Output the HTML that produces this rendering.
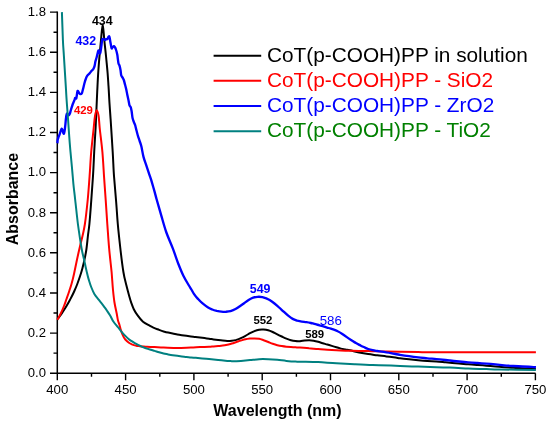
<!DOCTYPE html>
<html><head><meta charset="utf-8"><style>
html,body{margin:0;padding:0;background:#fff;}
svg{display:block;will-change:transform;font-family:"Liberation Sans",sans-serif;}
</style></head><body>
<svg width="550" height="426" viewBox="0 0 550 426">
<rect width="550" height="426" fill="#fff"/>
<path d="M57.3 11.5 V373.2 H535.6" fill="none" stroke="#000" stroke-width="1.5"/><path d="M50.0 373.2H57.3 M53.5 353.1H57.3 M50.0 333.1H57.3 M53.5 313.0H57.3 M50.0 293.0H57.3 M53.5 272.9H57.3 M50.0 252.8H57.3 M53.5 232.8H57.3 M50.0 212.7H57.3 M53.5 192.7H57.3 M50.0 172.6H57.3 M53.5 152.5H57.3 M50.0 132.5H57.3 M53.5 112.4H57.3 M50.0 92.4H57.3 M53.5 72.3H57.3 M50.0 52.2H57.3 M53.5 32.2H57.3 M50.0 12.1H57.3 M57.3 373.2V380.3 M91.5 373.2V376.8 M125.6 373.2V380.3 M159.8 373.2V376.8 M193.9 373.2V380.3 M228.1 373.2V376.8 M262.2 373.2V380.3 M296.4 373.2V376.8 M330.5 373.2V380.3 M364.7 373.2V376.8 M398.8 373.2V380.3 M433.0 373.2V376.8 M467.1 373.2V380.3 M501.3 373.2V376.8 M535.4 373.2V380.3" stroke="#000" stroke-width="1.4" fill="none"/>
<path d="M57.5 319.2 C57.9 318.7 59.1 317.2 60.0 316.0 C60.9 314.8 61.6 313.7 62.7 312.0 C63.8 310.3 65.3 308.0 66.5 306.0 C67.7 304.0 68.7 302.3 69.9 300.0 C71.1 297.7 72.7 294.7 73.9 292.0 C75.1 289.3 76.3 286.7 77.3 284.0 C78.3 281.3 79.2 278.7 80.1 276.0 C81.0 273.3 81.8 270.7 82.5 268.0 C83.2 265.3 83.8 263.0 84.4 260.0 C85.0 257.0 85.7 254.0 86.3 250.0 C86.9 246.0 87.4 240.3 87.9 236.0 C88.4 231.7 88.8 230.0 89.4 224.0 C90.0 218.0 90.7 208.0 91.3 200.0 C91.9 192.0 92.5 184.0 93.0 176.0 C93.5 168.0 93.8 160.0 94.2 152.0 C94.6 144.0 95.2 135.3 95.6 128.0 C96.0 120.7 96.2 114.0 96.5 108.0 C96.8 102.0 96.9 97.8 97.2 92.0 C97.5 86.2 97.8 79.0 98.2 73.0 C98.6 67.0 99.0 61.5 99.5 56.0 C100.0 50.5 100.5 45.3 101.0 40.0 C101.5 34.7 102.2 24.2 102.7 24.2 C103.2 24.2 103.8 34.7 104.3 40.0 C104.8 45.3 105.5 50.5 106.0 56.0 C106.5 61.5 107.2 68.0 107.6 73.0 C108.0 78.0 108.2 81.5 108.5 86.0 C108.8 90.5 109.0 94.5 109.3 100.0 C109.6 105.5 110.0 110.3 110.6 119.0 C111.2 127.7 112.1 142.5 112.7 152.0 C113.3 161.5 113.4 168.0 114.0 176.0 C114.6 184.0 115.4 192.0 116.0 200.0 C116.7 208.0 117.1 216.0 117.8 224.0 C118.5 232.0 119.4 240.0 120.3 248.0 C121.2 256.0 122.4 265.8 123.4 272.0 C124.4 278.2 125.3 281.0 126.3 285.0 C127.3 289.0 128.4 293.1 129.2 296.0 C130.0 298.9 130.4 300.4 131.2 302.6 C132.0 304.8 132.7 307.0 133.8 309.2 C134.9 311.4 136.3 313.6 137.8 315.7 C139.3 317.8 141.0 320.0 143.0 321.7 C145.0 323.4 148.1 324.8 150.0 325.9 C151.9 327.0 153.0 327.4 154.5 328.1 C156.0 328.8 157.6 329.3 159.1 329.9 C160.6 330.5 162.1 331.1 163.6 331.5 C165.1 331.9 166.7 332.3 168.2 332.6 C169.7 332.9 171.2 333.2 172.7 333.5 C174.2 333.8 175.8 334.2 177.3 334.5 C178.8 334.8 180.3 335.0 181.8 335.2 C183.3 335.4 184.9 335.6 186.4 335.8 C187.9 336.0 189.4 336.2 190.9 336.4 C192.4 336.6 194.0 336.7 195.5 336.9 C197.0 337.1 198.5 337.3 200.0 337.5 C201.5 337.7 203.0 337.9 204.5 338.1 C206.0 338.3 207.6 338.5 209.1 338.7 C210.6 338.9 212.1 339.3 213.6 339.5 C215.1 339.7 216.7 339.9 218.2 340.1 C219.7 340.3 221.2 340.5 222.7 340.6 C224.2 340.8 225.8 341.0 227.3 341.0 C228.8 341.0 230.3 341.0 231.8 340.8 C233.3 340.6 234.9 340.3 236.4 339.9 C237.9 339.4 239.4 338.8 240.9 338.1 C242.4 337.4 244.0 336.6 245.5 335.8 C247.0 335.0 248.5 334.0 250.0 333.2 C251.5 332.4 253.0 331.7 254.5 331.1 C256.0 330.5 257.6 330.0 259.1 329.7 C260.6 329.4 262.1 329.4 263.6 329.5 C265.1 329.6 266.7 329.8 268.2 330.2 C269.7 330.6 271.2 331.3 272.7 332.0 C274.2 332.7 275.8 333.6 277.3 334.3 C278.8 335.1 280.3 335.8 281.8 336.5 C283.3 337.2 284.9 338.0 286.4 338.6 C287.9 339.2 289.4 339.8 290.9 340.2 C292.4 340.6 294.0 340.9 295.5 341.1 C297.0 341.3 298.5 341.3 300.0 341.2 C301.5 341.1 303.0 340.7 304.5 340.5 C306.0 340.3 307.6 340.2 309.1 340.2 C310.6 340.2 312.1 340.4 313.6 340.7 C315.1 341.0 316.7 341.4 318.2 341.8 C319.7 342.2 321.2 342.8 322.7 343.2 C324.2 343.6 325.8 344.1 327.3 344.5 C328.8 344.9 330.3 345.4 331.8 345.9 C333.3 346.4 334.9 346.9 336.4 347.3 C337.9 347.8 339.4 348.2 340.9 348.6 C342.4 349.0 344.0 349.2 345.5 349.5 C347.0 349.8 347.7 349.8 350.0 350.3 C352.3 350.8 356.1 352.0 359.1 352.6 C362.1 353.2 365.2 353.7 368.2 354.1 C371.2 354.6 374.3 354.9 377.3 355.3 C380.3 355.7 383.4 356.0 386.4 356.4 C389.4 356.8 393.2 357.3 395.5 357.6 C397.8 357.9 397.7 358.0 400.0 358.3 C402.3 358.6 406.1 359.0 409.1 359.3 C412.1 359.6 415.2 359.9 418.2 360.2 C421.2 360.5 424.3 360.8 427.3 361.0 C430.3 361.2 433.4 361.4 436.4 361.6 C439.4 361.8 441.7 362.0 445.5 362.3 C449.3 362.6 455.3 363.2 459.1 363.5 C462.9 363.8 465.2 364.1 468.2 364.3 C471.2 364.6 474.3 364.8 477.3 365.0 C480.3 365.2 483.4 365.4 486.4 365.7 C489.4 365.9 492.6 366.2 495.5 366.5 C498.4 366.8 501.2 367.0 504.1 367.2 C507.1 367.4 510.2 367.5 513.2 367.7 C516.2 367.9 518.5 368.0 522.3 368.2 C526.1 368.4 533.6 368.6 535.9 368.7" fill="none" stroke="#000" stroke-width="2.0" stroke-linejoin="round" stroke-linecap="butt"/>
<path d="M57.3 319.8 C57.8 318.8 59.4 316.3 60.5 314.0 C61.6 311.7 63.0 308.5 64.0 306.0 C65.0 303.5 65.6 301.5 66.5 299.0 C67.4 296.5 68.5 293.5 69.3 291.0 C70.1 288.5 70.7 286.8 71.5 284.0 C72.3 281.2 73.2 277.7 74.0 274.0 C74.8 270.3 75.6 266.3 76.5 262.0 C77.4 257.7 78.6 252.3 79.6 248.0 C80.6 243.7 81.6 240.0 82.5 236.0 C83.4 232.0 84.0 230.0 84.9 224.0 C85.8 218.0 86.9 208.0 87.7 200.0 C88.5 192.0 89.0 184.0 89.6 176.0 C90.2 168.0 90.5 160.0 91.2 152.0 C91.9 144.0 93.1 134.0 93.7 128.0 C94.3 122.0 94.5 119.0 95.0 116.0 C95.5 113.0 96.1 110.2 96.7 110.2 C97.3 110.2 98.1 113.0 98.6 116.0 C99.1 119.0 99.1 122.0 99.7 128.0 C100.3 134.0 101.7 144.0 102.4 152.0 C103.1 160.0 103.5 168.0 104.0 176.0 C104.5 184.0 105.2 192.0 105.7 200.0 C106.2 208.0 106.7 216.0 107.3 224.0 C107.9 232.0 108.4 240.0 109.1 248.0 C109.8 256.0 110.9 265.0 111.6 272.0 C112.2 279.0 112.5 285.0 113.0 290.0 C113.5 295.0 113.8 298.0 114.4 302.0 C115.0 306.0 116.2 310.9 116.8 314.0 C117.4 317.1 117.5 318.7 118.0 320.5 C118.5 322.3 119.0 323.4 119.5 325.0 C120.0 326.6 120.3 328.3 120.9 330.1 C121.5 331.9 122.4 334.3 123.1 335.9 C123.8 337.5 124.3 338.4 125.3 339.5 C126.3 340.6 127.7 341.9 128.9 342.8 C130.1 343.7 131.3 344.1 132.5 344.6 C133.7 345.1 135.0 345.4 136.2 345.7 C137.4 346.0 138.0 346.0 139.8 346.2 C141.6 346.4 144.7 346.5 147.1 346.7 C149.5 346.9 151.8 347.0 154.5 347.1 C157.2 347.2 159.8 347.4 163.6 347.5 C167.4 347.6 172.8 347.9 177.3 347.9 C181.9 347.9 187.1 347.6 190.9 347.5 C194.7 347.4 197.0 347.1 200.0 347.0 C203.0 346.9 206.8 346.9 209.1 346.8 C211.4 346.7 212.1 346.5 213.6 346.4 C215.1 346.3 216.7 346.2 218.2 346.1 C219.7 346.0 221.2 345.7 222.7 345.5 C224.2 345.3 225.8 345.0 227.3 344.7 C228.8 344.4 230.3 343.9 231.8 343.5 C233.3 343.1 234.9 342.5 236.4 342.0 C237.9 341.5 239.4 340.9 240.9 340.5 C242.4 340.1 244.0 339.6 245.5 339.3 C247.0 339.0 248.5 338.8 250.0 338.6 C251.5 338.5 253.0 338.4 254.5 338.4 C256.0 338.4 257.6 338.5 259.1 338.8 C260.6 339.1 262.1 339.7 263.6 340.2 C265.1 340.7 266.7 341.4 268.2 342.0 C269.7 342.6 271.2 343.3 272.7 343.8 C274.2 344.3 275.8 344.8 277.3 345.2 C278.8 345.6 280.3 345.9 281.8 346.1 C283.3 346.4 284.9 346.6 286.4 346.7 C287.9 346.8 289.4 346.9 290.9 347.0 C292.4 347.1 294.0 347.2 295.5 347.3 C297.0 347.4 297.7 347.5 300.0 347.6 C302.3 347.8 306.1 347.9 309.1 348.2 C312.1 348.4 315.2 348.9 318.2 349.1 C321.2 349.4 324.3 349.5 327.3 349.7 C330.3 349.9 333.4 350.1 336.4 350.3 C339.4 350.5 341.7 350.6 345.5 350.7 C349.3 350.8 355.3 350.8 359.1 350.9 C362.9 351.0 365.2 351.0 368.2 351.1 C371.2 351.2 374.3 351.2 377.3 351.3 C380.3 351.4 382.6 351.4 386.4 351.5 C390.2 351.6 394.7 351.7 400.0 351.8 C405.3 351.9 411.5 352.0 418.2 352.1 C424.9 352.2 420.4 352.3 440.0 352.3 C459.6 352.3 519.9 352.3 535.9 352.3" fill="none" stroke="#f00" stroke-width="2.0" stroke-linejoin="round" stroke-linecap="butt"/>
<path d="M57.4 143.2 C57.5 142.6 57.5 140.8 57.7 139.7 C57.9 138.6 58.3 137.8 58.6 136.9 C58.9 136.0 59.3 135.2 59.7 134.1 C60.1 133.0 60.6 131.2 60.9 130.3 C61.2 129.4 61.4 128.7 61.7 128.6 C62.0 128.5 62.2 129.2 62.5 130.0 C62.8 130.8 63.1 132.8 63.4 133.3 C63.7 133.9 63.8 134.1 64.1 133.3 C64.3 132.6 64.7 130.3 64.9 128.8 C65.1 127.3 65.2 125.9 65.4 124.3 C65.6 122.7 65.7 120.5 65.9 119.0 C66.1 117.5 66.2 116.2 66.4 115.3 C66.6 114.4 66.8 113.5 67.1 113.4 C67.3 113.3 67.7 114.3 67.9 114.6 C68.2 114.9 68.3 115.4 68.6 115.3 C68.9 115.2 69.4 114.7 69.8 113.8 C70.2 112.9 70.4 111.6 70.9 110.0 C71.4 108.4 72.2 105.6 72.8 104.0 C73.4 102.4 74.0 101.2 74.4 100.2 C74.8 99.2 74.9 98.2 75.2 97.9 C75.5 97.6 75.9 99.4 76.3 98.3 C76.7 97.2 77.1 92.2 77.5 91.2 C77.9 90.2 78.3 91.7 78.7 92.2 C79.1 92.7 79.4 93.8 79.9 94.0 C80.4 94.2 81.3 94.2 81.8 93.4 C82.3 92.6 82.6 90.6 83.0 89.1 C83.4 87.6 83.8 85.7 84.2 84.2 C84.6 82.7 84.9 81.4 85.4 80.0 C85.9 78.6 86.6 76.8 87.3 75.7 C88.0 74.6 89.0 74.0 89.7 73.2 C90.4 72.4 91.0 71.5 91.6 70.8 C92.2 70.1 92.9 69.7 93.4 68.9 C93.9 68.1 94.3 67.1 94.6 65.9 C94.9 64.7 95.1 62.9 95.4 61.5 C95.7 60.1 96.2 59.0 96.6 57.5 C97.0 56.0 97.5 53.7 97.8 52.5 C98.1 51.3 98.3 50.3 98.6 50.4 C98.9 50.5 99.1 52.6 99.4 53.0 C99.7 53.4 100.0 54.1 100.3 53.0 C100.6 51.9 101.0 48.7 101.3 46.6 C101.6 44.5 101.8 41.8 102.0 40.5 C102.2 39.2 102.4 39.2 102.7 39.0 C103.0 38.8 103.7 39.1 104.1 39.3 C104.5 39.5 104.7 40.0 105.0 40.0 C105.3 40.0 105.6 39.2 106.0 39.1 C106.4 39.0 107.0 39.4 107.4 39.1 C107.8 38.8 108.0 37.7 108.3 37.2 C108.6 36.7 109.0 36.1 109.2 36.3 C109.5 36.5 109.5 37.2 109.8 38.5 C110.0 39.8 110.4 42.2 110.7 43.8 C111.0 45.4 111.3 47.7 111.6 48.3 C111.9 48.9 112.1 47.9 112.5 47.5 C112.9 47.1 113.5 46.1 113.9 46.1 C114.3 46.1 114.5 46.6 114.9 47.2 C115.3 47.9 115.7 48.8 116.1 50.0 C116.5 51.2 117.0 53.1 117.3 54.7 C117.6 56.3 117.7 57.9 117.9 59.4 C118.1 60.9 118.2 62.4 118.5 63.5 C118.8 64.6 119.3 64.8 119.6 65.9 C119.9 67.0 120.2 68.4 120.5 70.0 C120.8 71.6 120.9 74.0 121.2 75.3 C121.5 76.6 122.2 76.8 122.6 77.6 C123.0 78.4 123.4 78.9 123.8 80.0 C124.2 81.1 124.5 82.6 124.9 84.1 C125.3 85.6 125.7 87.0 126.1 88.8 C126.5 90.6 126.9 92.8 127.3 94.7 C127.7 96.6 128.1 98.4 128.5 100.2 C128.9 102.0 129.1 104.1 129.5 105.3 C129.9 106.5 130.4 106.2 130.8 107.3 C131.2 108.4 131.4 110.0 131.7 111.8 C132.0 113.6 132.2 116.5 132.6 118.2 C133.0 119.9 133.5 120.9 133.9 122.1 C134.3 123.3 134.8 123.9 135.2 125.3 C135.6 126.7 136.0 128.7 136.5 130.5 C137.0 132.3 137.5 134.5 138.1 136.3 C138.7 138.1 139.2 139.8 139.8 141.5 C140.4 143.2 140.8 144.0 141.4 146.6 C142.0 149.2 142.7 153.8 143.5 156.9 C144.3 160.0 145.4 162.6 146.3 165.4 C147.2 168.2 148.2 171.0 149.1 173.8 C150.0 176.6 151.0 179.2 151.9 182.3 C152.8 185.4 153.9 189.3 154.7 192.1 C155.5 194.9 155.5 195.3 156.6 199.2 C157.7 203.1 159.7 210.1 161.3 215.6 C162.9 221.1 164.3 226.5 166.2 232.0 C168.1 237.5 170.7 242.9 172.8 248.4 C174.9 253.9 176.9 260.2 178.7 264.8 C180.5 269.4 181.8 272.6 183.5 276.0 C185.2 279.4 187.3 282.8 188.6 285.0 C189.9 287.2 190.5 288.0 191.4 289.5 C192.3 291.0 193.1 292.6 194.1 294.1 C195.1 295.6 196.3 297.1 197.7 298.6 C199.1 300.1 200.6 301.8 202.3 303.2 C204.0 304.6 206.0 306.2 207.7 307.3 C209.4 308.4 210.8 308.9 212.3 309.5 C213.8 310.1 215.3 310.5 216.8 310.9 C218.3 311.2 219.9 311.5 221.4 311.6 C222.9 311.8 224.4 311.9 225.9 311.8 C227.4 311.7 229.0 311.6 230.5 311.2 C232.0 310.8 233.5 310.1 235.0 309.3 C236.5 308.5 238.0 307.4 239.5 306.4 C241.0 305.4 242.6 304.3 244.1 303.2 C245.6 302.1 247.1 300.9 248.6 300.0 C250.1 299.1 251.7 298.2 253.2 297.7 C254.7 297.2 256.2 296.9 257.7 296.8 C259.2 296.7 260.8 296.8 262.3 297.1 C263.8 297.4 265.5 298.1 266.8 298.6 C268.1 299.1 268.7 299.5 270.0 300.3 C271.3 301.1 273.0 302.3 274.5 303.5 C276.0 304.7 277.6 306.1 279.1 307.5 C280.6 308.9 282.1 310.2 283.6 311.6 C285.1 313.0 286.7 314.5 288.2 315.7 C289.7 316.9 291.2 318.1 292.7 318.9 C294.2 319.7 295.8 320.2 297.3 320.7 C298.8 321.1 300.3 321.4 301.8 321.6 C303.3 321.8 304.9 321.9 306.4 322.1 C307.9 322.3 309.4 322.6 310.9 323.0 C312.4 323.4 314.1 323.8 315.5 324.2 C316.9 324.6 318.1 324.9 319.5 325.3 C320.9 325.7 322.6 326.2 324.1 326.6 C325.6 327.1 327.1 327.5 328.6 328.0 C330.1 328.5 331.7 328.9 333.2 329.4 C334.7 329.9 336.2 330.4 337.7 331.2 C339.2 331.9 340.8 332.9 342.3 333.9 C343.8 334.9 345.3 336.0 346.8 337.1 C348.3 338.2 349.9 339.3 351.4 340.3 C352.9 341.3 354.4 342.1 355.9 343.0 C357.4 343.9 359.0 344.7 360.5 345.5 C362.0 346.3 363.7 347.0 365.0 347.6 C366.3 348.2 366.9 348.6 368.2 349.0 C369.5 349.4 371.2 349.8 372.7 350.1 C374.2 350.4 375.8 350.8 377.3 351.0 C378.8 351.2 380.3 351.4 381.8 351.6 C383.3 351.8 384.9 352.1 386.4 352.4 C387.9 352.6 389.4 352.8 390.9 353.1 C392.4 353.4 394.0 353.7 395.5 354.0 C397.0 354.3 397.7 354.4 400.0 354.8 C402.3 355.2 406.1 355.8 409.1 356.2 C412.1 356.6 415.2 357.0 418.2 357.4 C421.2 357.8 424.3 358.0 427.3 358.3 C430.3 358.6 433.4 358.8 436.4 359.1 C439.4 359.4 443.2 359.8 445.5 360.0 C447.8 360.2 447.7 360.2 450.0 360.5 C452.3 360.8 456.1 361.2 459.1 361.5 C462.1 361.8 465.2 362.1 468.2 362.3 C471.2 362.6 474.3 362.8 477.3 363.0 C480.3 363.2 483.4 363.4 486.4 363.6 C489.4 363.8 492.6 364.1 495.5 364.4 C498.4 364.7 501.2 365.0 504.1 365.3 C507.1 365.6 510.2 365.8 513.2 366.0 C516.2 366.2 519.3 366.4 522.3 366.5 C525.3 366.6 529.1 366.8 531.4 366.9 C533.7 367.0 535.1 367.2 535.9 367.3" fill="none" stroke="#00f" stroke-width="2.35" stroke-linejoin="round" stroke-linecap="butt"/>
<path d="M61.9 12.1 C62.1 16.8 62.6 32.7 62.9 40.0 C63.2 47.3 63.6 50.7 63.9 56.0 C64.2 61.3 64.6 66.7 64.9 72.0 C65.2 77.3 65.6 82.7 65.9 88.0 C66.2 93.3 66.5 98.7 66.9 104.0 C67.3 109.3 67.7 114.7 68.1 120.0 C68.5 125.3 68.8 130.7 69.2 136.0 C69.6 141.3 70.0 146.7 70.5 152.0 C71.0 157.3 71.5 162.7 72.0 168.0 C72.5 173.3 72.9 178.7 73.4 184.0 C73.9 189.3 74.5 193.3 75.2 200.0 C76.0 206.7 76.9 216.0 77.9 224.0 C79.0 232.0 80.4 241.7 81.5 248.0 C82.6 254.3 83.8 258.1 84.6 262.0 C85.4 265.9 85.9 268.3 86.6 271.2 C87.3 274.1 87.8 276.5 88.6 279.1 C89.4 281.7 90.2 284.5 91.2 287.0 C92.2 289.5 93.2 292.0 94.5 294.2 C95.8 296.4 97.6 298.2 99.1 300.2 C100.6 302.2 102.4 304.4 103.7 306.1 C105.0 307.9 106.0 309.2 107.0 310.7 C108.0 312.2 108.9 313.5 110.0 315.3 C111.1 317.1 112.3 319.8 113.4 321.6 C114.5 323.4 116.0 324.9 116.8 325.9 C117.6 326.9 117.4 326.4 118.2 327.4 C119.0 328.4 120.4 330.5 121.6 331.9 C122.8 333.3 124.1 334.7 125.3 335.9 C126.5 337.1 127.7 338.2 128.9 339.2 C130.1 340.2 131.3 340.9 132.5 341.7 C133.7 342.5 135.0 343.2 136.2 343.9 C137.4 344.6 138.6 345.1 139.8 345.7 C141.0 346.3 142.3 346.9 143.5 347.4 C144.7 347.9 145.9 348.2 147.1 348.6 C148.3 349.0 149.5 349.4 150.7 349.8 C151.9 350.2 153.1 350.5 154.5 350.9 C155.9 351.3 157.6 351.9 159.1 352.3 C160.6 352.7 162.1 353.1 163.6 353.5 C165.1 353.9 166.7 354.1 168.2 354.4 C169.7 354.7 171.2 355.0 172.7 355.2 C174.2 355.4 175.8 355.6 177.3 355.8 C178.8 356.0 180.3 356.2 181.8 356.4 C183.3 356.6 184.9 356.7 186.4 356.9 C187.9 357.1 189.4 357.2 190.9 357.4 C192.4 357.5 194.0 357.6 195.5 357.8 C197.0 358.0 197.7 358.1 200.0 358.3 C202.3 358.5 206.1 358.8 209.1 359.1 C212.1 359.4 215.2 359.7 218.2 360.0 C221.2 360.3 225.0 360.7 227.3 360.9 C229.6 361.1 230.3 361.1 231.8 361.2 C233.3 361.2 234.9 361.2 236.4 361.2 C237.9 361.1 239.4 361.0 240.9 360.9 C242.4 360.8 244.0 360.6 245.5 360.5 C247.0 360.4 247.7 360.3 250.0 360.1 C252.3 359.9 256.1 359.4 259.1 359.2 C262.1 359.0 265.2 359.1 268.2 359.2 C271.2 359.3 274.3 359.5 277.3 359.8 C280.3 360.1 283.4 360.6 286.4 360.9 C289.4 361.2 293.2 361.5 295.5 361.6 C297.8 361.7 296.2 361.6 300.0 361.7 C303.8 361.8 312.1 361.9 318.2 362.1 C324.3 362.4 330.3 362.9 336.4 363.2 C342.4 363.5 348.4 363.9 354.5 364.2 C360.6 364.5 366.6 364.8 372.7 365.0 C378.8 365.2 386.3 365.5 390.9 365.6 C395.4 365.8 395.4 365.7 400.0 365.9 C404.6 366.1 412.1 366.4 418.2 366.6 C424.3 366.8 431.1 367.1 436.4 367.3 C441.7 367.5 444.7 367.4 450.0 367.6 C455.3 367.8 462.1 368.2 468.2 368.5 C474.3 368.8 481.1 368.9 486.4 369.1 C491.7 369.3 491.8 369.4 500.0 369.5 C508.2 369.6 529.9 369.9 535.9 370.0" fill="none" stroke="#008080" stroke-width="2.0" stroke-linejoin="round" stroke-linecap="butt"/>
<g font-size="13.1" fill="#000"><text x="46" y="377.0" text-anchor="end">0.0</text><text x="46" y="336.9" text-anchor="end">0.2</text><text x="46" y="296.8" text-anchor="end">0.4</text><text x="46" y="256.6" text-anchor="end">0.6</text><text x="46" y="216.5" text-anchor="end">0.8</text><text x="46" y="176.4" text-anchor="end">1.0</text><text x="46" y="136.3" text-anchor="end">1.2</text><text x="46" y="96.2" text-anchor="end">1.4</text><text x="46" y="56.0" text-anchor="end">1.6</text><text x="46" y="15.9" text-anchor="end">1.8</text></g>
<g font-size="13.2" fill="#000"><text x="57.3" y="394.3" text-anchor="middle">400</text><text x="125.6" y="394.3" text-anchor="middle">450</text><text x="193.9" y="394.3" text-anchor="middle">500</text><text x="262.2" y="394.3" text-anchor="middle">550</text><text x="330.5" y="394.3" text-anchor="middle">600</text><text x="398.8" y="394.3" text-anchor="middle">650</text><text x="467.1" y="394.3" text-anchor="middle">700</text><text x="535.4" y="394.3" text-anchor="middle">750</text></g>
<text x="277.5" y="415.6" font-size="16" font-weight="bold" text-anchor="middle">Wavelength (nm)</text>
<text transform="translate(17.5 199.1) rotate(-90)" font-size="16" font-weight="bold" text-anchor="middle" textLength="92.3" lengthAdjust="spacingAndGlyphs">Absorbance</text>
<path d="M213.6 55.8H261.2" stroke="#000" stroke-width="2"/><text x="267" y="61.9" fill="#000" font-size="20.8">CoT(p-COOH)PP in solution</text><path d="M213.6 80.8H261.2" stroke="#f00" stroke-width="2"/><text x="267" y="86.9" fill="#f00" font-size="20.8">CoT(p-COOH)PP - SiO2</text><path d="M213.6 106.0H261.2" stroke="#00f" stroke-width="2"/><text x="267" y="112.1" fill="#00f" font-size="20.8">CoT(p-COOH)PP - ZrO2</text><path d="M213.6 131.2H261.2" stroke="#008080" stroke-width="2"/><text x="267" y="137.3" fill="#008000" font-size="20.8">CoT(p-COOH)PP - TiO2</text>
<text x="102.3" y="24.8" fill="#000" font-size="12.4" font-weight="bold" text-anchor="middle">434</text><text x="85.8" y="44.9" fill="#00f" font-size="12.4" font-weight="bold" text-anchor="middle">432</text><text x="83.4" y="114.3" fill="#f00" font-size="11.4" font-weight="bold" text-anchor="middle">429</text><text x="260.1" y="292.9" fill="#00f" font-size="12.4" font-weight="bold" text-anchor="middle">549</text><text x="262.9" y="323.8" fill="#000" font-size="11.4" font-weight="bold" text-anchor="middle">552</text><text x="314.7" y="337.8" fill="#000" font-size="11.4" font-weight="bold" text-anchor="middle">589</text><text x="330.8" y="324.9" fill="#00f" font-size="13.3" font-weight="normal" text-anchor="middle">586</text>
</svg>
</body></html>
